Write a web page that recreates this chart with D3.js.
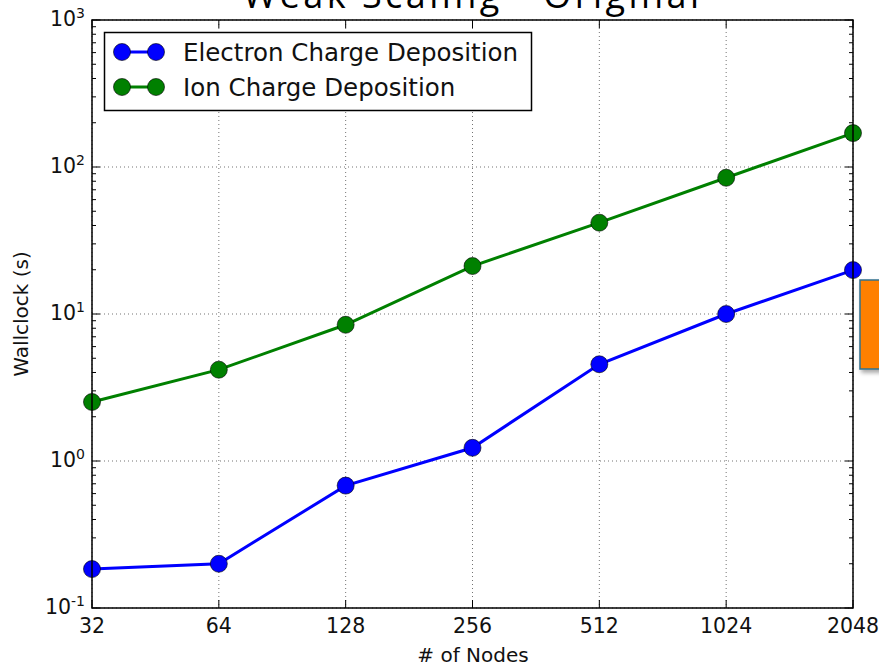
<!DOCTYPE html>
<html>
<head>
<meta charset="utf-8">
<script src="https://cdn.jsdelivr.net/npm/d3@7/dist/d3.min.js"></script>
<style>
  body { margin: 0; background: #fff; }
  svg { display: block; }
</style>
</head>
<body>
<svg id="chart" width="879" height="667"></svg>
<script>
// Wallclock time per node count (weak scaling)
const nodes = [32, 64, 128, 256, 512, 1024, 2048];
const electronTimes = [0.184, 0.20, 0.68, 1.23, 4.55, 10.0, 19.9];
const ionTimes = [2.52, 4.18, 8.45, 21.2, 41.8, 84.5, 170];
const seriesNames = ["Electron Charge Deposition", "Ion Charge Deposition"];
const seriesColors = ["#0000ff", "#008000"];
const yTickExps = [-1, 0, 1, 2, 3];

const svg = d3.select("#chart");
const margin = { left: 92, right: 853, top: 20, bottom: 608 };

const x = d3.scaleLog().base(2).domain([32, 2048]).range([margin.left, margin.right]);
const y = d3.scaleLog().domain([0.1, 1000]).range([margin.bottom, margin.top]);

// Title (sits partly above the frame's top edge)
svg.append("text")
  .attr("x", 471).attr("y", 8)
  .attr("text-anchor", "middle")
  .attr("font-family", "Open Sans, sans-serif")
  .attr("font-size", 36)
  .attr("textLength", 456)
  .attr("fill", "#000")
  .text("Weak Scaling - Original");

const plot = svg.append("g");

// Dotted grid at major ticks
plot.selectAll("line.gx").data(nodes).join("line")
  .attr("x1", d => x(d)).attr("x2", d => x(d))
  .attr("y1", margin.top).attr("y2", margin.bottom)
  .attr("stroke", "#000").attr("stroke-opacity", 0.55)
  .attr("stroke-width", 1).attr("stroke-dasharray", "1,3");
plot.selectAll("line.gy").data(yTickExps).join("line")
  .attr("x1", margin.left).attr("x2", margin.right)
  .attr("y1", d => y(Math.pow(10, d))).attr("y2", d => y(Math.pow(10, d)))
  .attr("stroke", "#000").attr("stroke-opacity", 0.55)
  .attr("stroke-width", 1).attr("stroke-dasharray", "1,3");

// Tick marks pointing inward on all four sides
const minorVals = [];
for (let e = -1; e < 3; e++) for (let m = 2; m <= 9; m++) minorVals.push(m * Math.pow(10, e));
const majorVals = yTickExps.map(e => Math.pow(10, e));
[[margin.left, 1], [margin.right, -1]].forEach(([xx, dir]) => {
  plot.selectAll(null).data(majorVals).join("line")
    .attr("x1", xx).attr("x2", xx + dir * 8)
    .attr("y1", d => y(d)).attr("y2", d => y(d))
    .attr("stroke", "#000").attr("stroke-width", 1);
  plot.selectAll(null).data(minorVals).join("line")
    .attr("x1", xx).attr("x2", xx + dir * 4)
    .attr("y1", d => y(d)).attr("y2", d => y(d))
    .attr("stroke", "#000").attr("stroke-width", 1);
});
[[margin.bottom, -1], [margin.top, 1]].forEach(([yy, dir]) => {
  plot.selectAll(null).data(nodes).join("line")
    .attr("x1", d => x(d)).attr("x2", d => x(d))
    .attr("y1", yy).attr("y2", yy + dir * 8)
    .attr("stroke", "#000").attr("stroke-width", 1);
});

// Series lines and markers
const line = d3.line().x((d, i) => x(nodes[i])).y(d => y(d));
[electronTimes, ionTimes].forEach((vals, k) => {
  plot.append("path").datum(vals)
    .attr("d", line)
    .attr("fill", "none")
    .attr("stroke", seriesColors[k])
    .attr("stroke-width", 3);
  plot.selectAll(null).data(vals).join("circle")
    .attr("cx", (d, i) => x(nodes[i]))
    .attr("cy", d => y(d))
    .attr("r", 8.5)
    .attr("fill", seriesColors[k])
    .attr("stroke", "#000").attr("stroke-opacity", 0.6)
    .attr("stroke-width", 1);
});

// Frame
svg.append("rect")
  .attr("x", margin.left).attr("y", margin.top)
  .attr("width", margin.right - margin.left)
  .attr("height", margin.bottom - margin.top)
  .attr("fill", "none").attr("stroke", "#000").attr("stroke-width", 1.5);

// X tick labels
svg.selectAll("text.xt").data(nodes).join("text")
  .attr("x", d => x(d)).attr("y", 633)
  .attr("text-anchor", "middle")
  .attr("font-family", "DejaVu Sans, sans-serif")
  .attr("font-size", 20.5)
  .attr("fill", "#111")
  .text(d => d);

// Y tick labels (10 with superscript exponent)
const yl = svg.selectAll("text.yt").data(yTickExps).join("text")
  .attr("x", 85).attr("y", d => y(Math.pow(10, d)) + 6)
  .attr("text-anchor", "end")
  .attr("font-family", "DejaVu Sans, sans-serif")
  .attr("font-size", 20.5)
  .attr("fill", "#111");
yl.append("tspan").text("10");
yl.append("tspan").attr("dy", -8).attr("font-size", 14).text(d => d);

// Axis titles
svg.append("text")
  .attr("x", 473).attr("y", 662)
  .attr("text-anchor", "middle")
  .attr("font-family", "DejaVu Sans, sans-serif")
  .attr("font-size", 20)
  .attr("fill", "#111")
  .text("# of Nodes");
svg.append("text")
  .attr("transform", "translate(28,314) rotate(-90)")
  .attr("text-anchor", "middle")
  .attr("font-family", "DejaVu Sans, sans-serif")
  .attr("font-size", 20)
  .attr("fill", "#111")
  .text("Wallclock (s)");

// Legend
const lg = svg.append("g");
lg.append("rect")
  .attr("x", 104.5).attr("y", 32.5).attr("width", 427).attr("height", 78)
  .attr("fill", "#fff").attr("stroke", "#000").attr("stroke-width", 1.5);
seriesNames.forEach((name, k) => {
  const cy = 52 + k * 35;
  lg.append("line")
    .attr("x1", 122).attr("x2", 156).attr("y1", cy).attr("y2", cy)
    .attr("stroke", seriesColors[k]).attr("stroke-width", 3);
  [122, 156].forEach(cx => lg.append("circle")
    .attr("cx", cx).attr("cy", cy).attr("r", 8.5)
    .attr("fill", seriesColors[k])
    .attr("stroke", "#000").attr("stroke-opacity", 0.6).attr("stroke-width", 1));
  lg.append("text")
    .attr("x", 183).attr("y", cy + 8.5)
    .attr("font-family", "DejaVu Sans, sans-serif")
    .attr("font-size", 24.5)
    .attr("fill", "#111")
    .text(name);
});

// Callout box at the right edge
const defs = svg.append("defs");
const f = defs.append("filter").attr("id", "shadow").attr("x", "-20%").attr("y", "-20%").attr("width", "160%").attr("height", "160%");
f.append("feDropShadow").attr("dx", 2).attr("dy", 3).attr("stdDeviation", 2).attr("flood-color", "#000").attr("flood-opacity", 0.35);
svg.append("rect")
  .attr("x", 860).attr("y", 280).attr("width", 60).attr("height", 89)
  .attr("fill", "#ff8000").attr("stroke", "#31708f").attr("stroke-width", 1.5)
  .attr("filter", "url(#shadow)");
</script>
</body>
</html>
